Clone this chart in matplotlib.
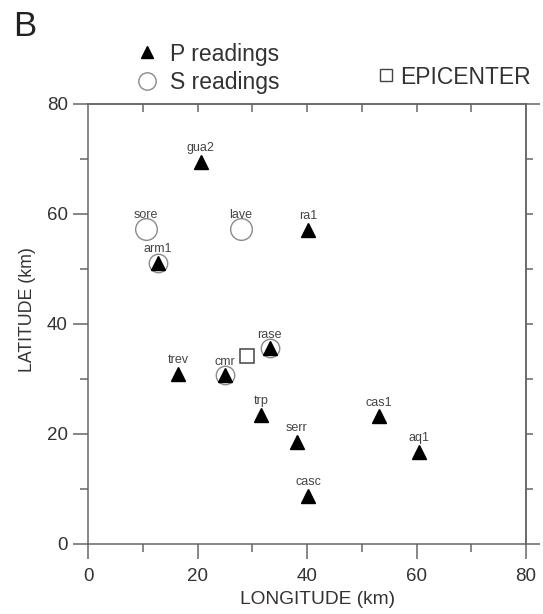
import matplotlib
matplotlib.use("Agg")
import matplotlib.pyplot as plt
from matplotlib.lines import Line2D

plt.rcParams['font.family'] = ['Liberation Sans', 'DejaVu Sans']

# stations with P readings (longitude km, latitude km)
p_names = ['gua2', 'ra1', 'arm1', 'rase', 'trev', 'cmr', 'trp', 'serr', 'cas1', 'aq1', 'casc']
p_lon = [20.6, 40.2, 12.8, 33.2, 16.5, 25.0, 31.6, 38.1, 53.2, 60.5, 40.2]
p_lat = [69.5, 57.1, 51.1, 35.6, 31.0, 30.7, 23.5, 18.6, 23.2, 16.8, 8.8]

# stations with S readings
s_names = ['sore', 'lave', 'arm1', 'rase', 'cmr']
s_lon = [10.6, 27.9, 12.8, 33.2, 25.0]
s_lat = [57.3, 57.3, 51.1, 35.6, 30.7]

# epicenter
epi_lon = [29.0]
epi_lat = [34.1]

frame = '#666666'
txt = '#333333'

fig = plt.figure(figsize=(5.43, 6.14), dpi=100)
ax = fig.add_axes([88 / 543, 70 / 614, 438 / 543, 440 / 614])

# S circles: a bit smaller where a P triangle sits inside
for name, x, y in zip(s_names, s_lon, s_lat):
    size = 13.3 if name in p_names else 15.6
    ax.plot(x, y, 'o', ms=size, mfc='none', mec='#8a8a8a', mew=1.0)

ax.plot(p_lon, p_lat, '^', ms=10, color='black', linestyle='none')
ax.plot(epi_lon, epi_lat, 's', ms=10.6, mfc='none', mec='#444444', mew=1.1, linestyle='none')

# station labels
positions = dict(zip(p_names, zip(p_lon, p_lat)))
positions.update(zip(s_names, zip(s_lon, s_lat)))
for name, (x, y) in positions.items():
    ax.annotate(name, (x, y), xytext=(0, 9.8), textcoords='offset points',
                ha='center', va='center', fontsize=9, color='#444444')

ax.set_xlim(0, 80)
ax.set_ylim(0, 80)
ax.set_xticks(range(0, 81, 20))
ax.set_xticks(range(10, 80, 20), minor=True)
ax.set_yticks(range(0, 81, 20))
ax.set_yticks(range(10, 80, 20), minor=True)
ax.tick_params(which='both', direction='out', color=frame, width=1.1,
               labelcolor=txt, labelsize=13.5)
ax.tick_params(which='major', length=10.5)
ax.tick_params(which='minor', length=5.5)
ax.tick_params(axis='x', pad=7)
ax.tick_params(axis='y', pad=4)
for sp in ax.spines.values():
    sp.set_color(frame)
    sp.set_linewidth(1.1)

# top ticks point inward, right ticks outward
secx = ax.secondary_xaxis('top')
secx.set_xticks(range(10, 80, 10), labels=[''] * 7)
secx.tick_params(direction='in', length=5.8, width=1.1, color=frame)
secx.spines['top'].set_color(frame)
secx.spines['top'].set_linewidth(1.1)

secy = ax.secondary_yaxis('right')
secy.set_yticks([0, 80], labels=['', ''])
secy.set_yticks(range(10, 80, 10), labels=[''] * 7, minor=True)
secy.tick_params(which='major', direction='out', length=10, width=1.1, color=frame)
secy.tick_params(which='minor', direction='out', length=5, width=1.1, color=frame)
secy.spines['right'].set_color(frame)
secy.spines['right'].set_linewidth(1.1)

ax.set_xlabel('LONGITUDE (km)', fontsize=13.8, color=txt, va='center')
ax.xaxis.set_label_coords((318 - 88) / 438, (544 - 599) / 440)
ax.set_ylabel('LATITUDE (km)', fontsize=12.8, color=txt, va='center',
              family=['Liberation Sans Narrow', 'Liberation Sans'])
ax.yaxis.set_label_coords((27 - 88) / 438, (544 - 310) / 440)

fig.text(13 / 543, 1 - 26 / 614, 'B', fontsize=25, color='#222222', va='center', ha='left')

# legends
h_p = Line2D([], [], marker='^', ms=8.6, color='black', linestyle='none')
h_s = Line2D([], [], marker='o', ms=12.5, mfc='none', mec='#8a8a8a', mew=1.0, linestyle='none')
h_e = Line2D([], [], marker='s', ms=8.5, mfc='none', mec='#444444', mew=1.0, linestyle='none')

leg1 = fig.legend([h_p, h_s], ['P readings', 'S readings'], loc='upper left',
                  bbox_to_anchor=(136 / 543, 1 - 42.5 / 614), frameon=False,
                  fontsize=16.5, handlelength=0.95, handletextpad=0.55,
                  labelspacing=0.25, borderpad=0, borderaxespad=0, labelcolor=txt)
leg2 = fig.legend([h_e], ['EPICENTER'], loc='center left',
                  bbox_to_anchor=(380 / 543, 1 - 77 / 614), frameon=False,
                  fontsize=16.5, handlelength=0.55, handletextpad=0.32,
                  borderpad=0, borderaxespad=0, labelcolor=txt)

fig.savefig('out.png', dpi=100)
